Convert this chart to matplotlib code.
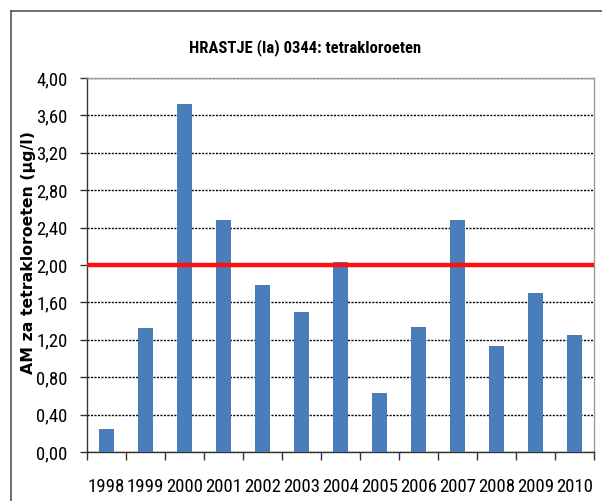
import matplotlib
matplotlib.use("Agg")
import matplotlib.pyplot as plt
from matplotlib.lines import Line2D
from matplotlib import font_manager as fm
import numpy as np

years = ["1998", "1999", "2000", "2001", "2002", "2003", "2004",
         "2005", "2006", "2007", "2008", "2009", "2010"]
values = [0.25, 1.33, 3.72, 2.48, 1.79, 1.50, 2.03,
          0.63, 1.34, 2.48, 1.13, 1.70, 1.25]
limit_value = 2.00
y_ticks = [0.0, 0.4, 0.8, 1.2, 1.6, 2.0, 2.4, 2.8, 3.2, 3.6, 4.0]
title = "HRASTJE (Ia) 0344: tetrakloroeten"
ylabel = "AM za tetrakloroeten (µg/l)"


def find_condensed(bold):
    prefs = ["liberation sans narrow", "roboto condensed", "dejavu sans condensed",
             "dejavu sans", "open sans condensed", "noto sans condensed", "noto sans"]
    cands = []
    for e in fm.fontManager.ttflist:
        key = (e.name + " " + e.fname).lower()
        if not ("narrow" in key or "condensed" in key):
            continue
        if e.style != "normal" or "oblique" in key or "italic" in key:
            continue
        w = e.weight if isinstance(e.weight, int) else (700 if "bold" in str(e.weight) else 400)
        if bold != (w >= 600 or "bold" in e.fname.lower()):
            continue
        if "semi" in e.fname.lower() or "extra" in e.fname.lower() or "light" in e.fname.lower():
            continue
        rank = len(prefs)
        for i, p in enumerate(prefs):
            if p in key:
                rank = i
                break
        cands.append((rank, e.fname))
    if cands:
        cands.sort()
        return fm.FontProperties(fname=cands[0][1]), True
    return fm.FontProperties(family=["Liberation Sans", "DejaVu Sans"],
                             weight="bold" if bold else "normal"), False


reg_fp, reg_cond = find_condensed(False)
bold_fp, bold_cond = find_condensed(True)

tick_fp = reg_fp.copy()
tick_fp.set_size(13.5 if reg_cond else 11.5)
title_fp = bold_fp.copy()
title_fp.set_size(12 if bold_cond else 10)

fig = plt.figure(figsize=(6.02, 5.01), dpi=100)
ax = fig.add_axes([87/602, 1-452/501, (594-87)/602, (452-78)/501])

x = np.arange(len(years))
ax.bar(x, values, width=0.41, color="#4a7ebb", zorder=3)
ax.axhline(limit_value, color="#ff1010", lw=3.2, zorder=4)

ax.set_xlim(-0.5, len(years) - 0.5)
ax.set_ylim(0, 4.0)
ax.set_yticks(y_ticks)
ax.set_yticklabels([f"{v:.2f}".replace(".", ",") for v in y_ticks])
for t in ax.get_yticklabels():
    t.set_fontproperties(tick_fp)
ax.yaxis.grid(True, linestyle=(0, (1.5, 1.0)), color="black", lw=1.0, zorder=1)
ax.set_axisbelow(True)

# x: boundary ticks (major, no labels), category labels (minor, no marks)
ax.set_xticks(np.arange(-0.5, len(years) + 0.5, 1.0))
ax.set_xticklabels([])
ax.set_xticks(x, minor=True)
ax.set_xticklabels(years, minor=True)
for t in ax.get_xticklabels(minor=True):
    t.set_fontproperties(tick_fp)
ax.tick_params(axis="x", which="major", length=6, width=1, color="#333333", direction="out")
ax.tick_params(axis="x", which="minor", length=0, pad=19)
ax.tick_params(axis="y", length=5, width=1, color="#333333", pad=9)

for side in ("left", "bottom"):
    ax.spines[side].set_color("#333333")
    ax.spines[side].set_linewidth(1.0)
for side in ("top", "right"):
    ax.spines[side].set_color("#9a9a9a")
    ax.spines[side].set_linewidth(1.0)

fig.text(305/602, 1-48/501, title, fontproperties=title_fp,
         ha="center", va="center")
fig.text(29/602, 1-252/501, ylabel, family=["DejaVu Sans"], fontsize=11.3,
         fontweight="bold", rotation=90, ha="center", va="center")

# outer chart border (top and left visible)
fig.add_artist(Line2D([11/602, 11/602], [0, 1-11/501], color="#555555", lw=1.2,
                      transform=fig.transFigure))
fig.add_artist(Line2D([11/602, 1], [1-11/501, 1-11/501], color="#555555", lw=1.2,
                      transform=fig.transFigure))

fig.savefig("out.png", dpi=100)
